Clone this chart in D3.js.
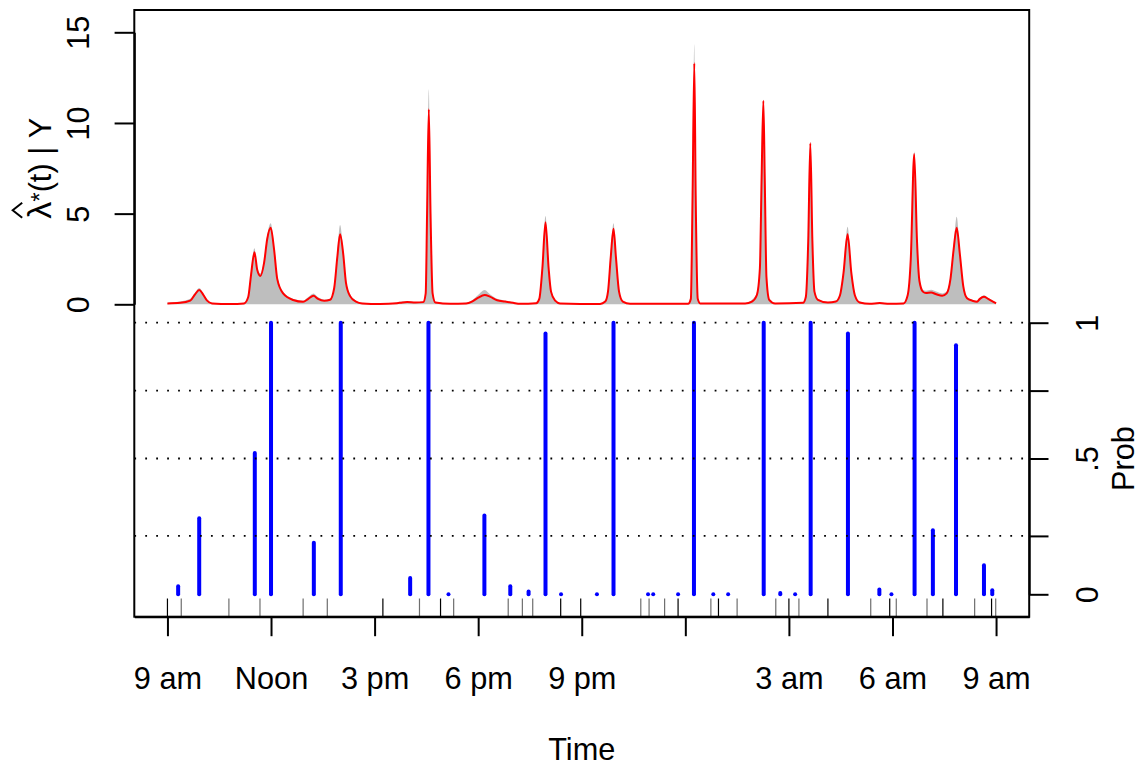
<!DOCTYPE html>
<html>
<head>
<meta charset="utf-8">
<style>
  body { margin: 0; background: #fff; }
  svg { display: block; font-family: "Liberation Sans", Arial, sans-serif; }
</style>
</head>
<body>
<svg></svg>
<script src="https://cdn.jsdelivr.net/npm/d3@7"></script>
<script>
let width = 1143, height = 767;

// fitted intensity (red) and binned counts (grey), time in hours from midnight of day 1
let fitTime = [9.00, 9.37, 9.66, 9.80, 9.92, 10.03, 10.15, 10.29, 10.82, 11.22, 11.34, 11.42, 11.52, 11.60, 11.69, 11.80, 11.89, 11.99, 12.09, 12.18,
    12.35, 12.64, 12.93, 13.08, 13.23, 13.36, 13.54, 13.71, 13.83, 13.92, 14.00, 14.09, 14.17, 14.29, 14.46, 14.64, 15.16, 15.65, 15.80, 15.94,
    16.18, 16.41, 16.48, 16.52, 16.57, 16.62, 16.68, 16.76, 17.19, 17.65, 17.82, 17.99, 18.19, 18.34, 18.55, 18.78, 19.01, 19.22, 19.68, 19.77,
    19.86, 19.95, 20.04, 20.11, 20.23, 20.37, 21.53, 21.68, 21.76, 21.84, 21.92, 21.99, 22.08, 22.19, 22.40, 24.08, 24.16, 24.21, 24.26, 24.30,
    24.36, 24.43, 25.73, 25.93, 26.07, 26.16, 26.21, 26.26, 26.30, 26.35, 26.43, 26.60, 27.41, 27.49, 27.56, 27.62, 27.68, 27.74, 27.84, 28.13,
    28.36, 28.48, 28.58, 28.70, 28.81, 28.91, 29.05, 29.34, 29.63, 29.91, 30.32, 30.44, 30.53, 30.63, 30.71, 30.78, 30.88, 30.97, 31.12, 31.27,
    31.44, 31.57, 31.68, 31.77, 31.86, 31.95, 32.05, 32.16, 32.31, 32.45, 32.53, 32.65, 32.77, 32.91, 33.00];
let fitRed = [0.05, 0.08, 0.20, 0.55, 0.79, 0.55, 0.20, 0.05, 0.02, 0.05, 0.40, 1.60, 2.87, 1.90, 1.56, 2.30, 3.60, 4.22, 3.00, 1.40,
    0.60, 0.24, 0.14, 0.30, 0.47, 0.30, 0.20, 0.25, 0.90, 2.60, 3.86, 2.80, 1.20, 0.45, 0.15, 0.05, 0.02, 0.06, 0.10, 0.12,
    0.10, 0.12, 0.60, 5.00, 10.76, 5.00, 0.60, 0.10, 0.03, 0.05, 0.15, 0.35, 0.51, 0.42, 0.22, 0.15, 0.08, 0.03, 0.06, 0.30,
    2.00, 4.52, 2.00, 0.70, 0.20, 0.05, 0.02, 0.15, 0.70, 2.60, 4.17, 2.60, 0.70, 0.15, 0.03, 0.03, 0.30, 6.00, 13.29, 6.00,
    0.30, 0.05, 0.05, 0.15, 0.50, 2.00, 7.00, 11.23, 7.00, 1.50, 0.25, 0.05, 0.08, 0.40, 3.50, 8.88, 3.50, 0.70, 0.25, 0.10,
    0.15, 0.50, 1.70, 3.86, 1.70, 0.50, 0.10, 0.03, 0.07, 0.03, 0.05, 0.50, 2.50, 8.29, 3.50, 1.30, 0.70, 0.62, 0.65, 0.55,
    0.47, 0.60, 1.40, 3.00, 4.22, 2.80, 1.00, 0.33, 0.20, 0.14, 0.30, 0.42, 0.30, 0.15, 0.05];
let fitGrey = [0.08, 0.15, 0.30, 0.65, 0.90, 0.62, 0.25, 0.08, 0.03, 0.08, 0.50, 1.80, 3.09, 2.00, 1.70, 2.45, 3.80, 4.47, 3.20, 1.55,
    0.70, 0.30, 0.20, 0.40, 0.60, 0.40, 0.25, 0.30, 1.00, 2.80, 4.37, 3.00, 1.35, 0.55, 0.20, 0.08, 0.03, 0.10, 0.15, 0.15,
    0.12, 0.15, 0.70, 5.40, 11.86, 5.40, 0.70, 0.12, 0.04, 0.08, 0.22, 0.50, 0.79, 0.55, 0.30, 0.20, 0.10, 0.05, 0.08, 0.40,
    2.20, 4.87, 2.20, 0.80, 0.25, 0.06, 0.03, 0.20, 0.80, 2.80, 4.47, 2.80, 0.80, 0.20, 0.04, 0.04, 0.35, 6.50, 14.34, 6.50,
    0.35, 0.06, 0.06, 0.25, 0.65, 2.20, 7.30, 11.30, 7.30, 1.60, 0.30, 0.06, 0.10, 0.50, 3.70, 8.97, 3.70, 0.80, 0.30, 0.12,
    0.20, 0.60, 1.90, 4.28, 1.90, 0.60, 0.15, 0.05, 0.10, 0.05, 0.08, 0.60, 2.70, 8.42, 3.70, 1.45, 0.80, 0.75, 0.80, 0.70,
    0.60, 0.70, 1.55, 3.20, 4.83, 3.00, 1.10, 0.40, 0.25, 0.20, 0.35, 0.50, 0.35, 0.20, 0.08];

// event probabilities
let eventTime = [9.31, 9.92, 11.53, 12.00, 13.24, 14.02, 16.03, 16.56, 17.14, 18.18, 18.93, 19.46, 19.95, 20.40, 21.44, 21.92, 22.92,
    23.07, 23.79, 24.25, 24.81, 25.24, 26.27, 26.75, 27.18, 27.63, 28.71, 29.62, 29.97, 30.64, 31.17, 31.84, 32.65, 32.89];
let eventProb = [0.03, 0.28, 0.52, 1.00, 0.19, 1.00, 0.06, 1.00, 0.00, 0.29, 0.03, 0.01, 0.96, 0.00, 0.00, 1.00, 0.00,
    0.00, 0.00, 1.00, 0.00, 0.00, 1.00, 0.005, 0.00, 1.00, 0.96, 0.018, 0.00, 1.00, 0.236, 0.917, 0.107, 0.015];

// rug marks
let rugBlack = [9.00, 15.24, 16.91, 20.39, 20.97, 23.79, 24.96, 27.00, 28.13, 29.92, 31.46, 32.87];
let rugGrey = [9.40, 10.78, 11.68, 12.93, 13.63, 16.30, 17.29, 18.87, 19.28, 19.58, 22.71, 22.95, 23.40, 24.74, 25.50, 26.62,
    27.29, 29.37, 30.11, 31.00, 32.38, 32.99];

let hourTicks = [9, 12, 15, 18, 21, 24, 27, 30, 33];
let hourLabels = ["9 am", "Noon", "3 pm", "6 pm", "9 pm", "", "3 am", "6 am", "9 am"];
let rateTicks = [0, 5, 10, 15];
let probTicks = [0, 0.215, 0.5, 0.75, 1];
let probLabels = ["0", "", ".5", "", "1"];
let probGrid = [0.215, 0.5, 0.75, 1];

let plotLeft = 134.3, plotRight = 1029.2, plotTop = 10, plotBottom = 616.7;
let fontSize = 30.7;

let svg = d3.select("svg").attr("width", width).attr("height", height);

let x = d3.scaleLinear().domain([8.04, 33.96]).range([plotLeft, plotRight]);
let yRate = d3.scaleLinear().domain([0, 15]).range([304.3, 32.3]);
let yProb = d3.scaleLinear().domain([0, 1]).range([594.3, 322.7]);

let fit = d3.zip(fitTime, fitRed, fitGrey);

// grey counts
svg.append("path")
    .datum(fit)
    .attr("fill", "#bebebe")
    .attr("d", d3.area().curve(d3.curveMonotoneX)
        .x(d => x(d[0])).y0(yRate(0)).y1(d => yRate(d[2])));

// red fitted intensity
svg.append("path")
    .datum(fit)
    .attr("fill", "none")
    .attr("stroke", "#ff0000")
    .attr("stroke-width", 2)
    .attr("d", d3.line().curve(d3.curveMonotoneX)
        .x(d => x(d[0])).y(d => yRate(d[1])));

// probability bars
svg.append("g")
    .selectAll("line")
    .data(d3.zip(eventTime, eventProb))
    .enter()
    .append("line")
    .attr("x1", d => x(d[0])).attr("x2", d => x(d[0]))
    .attr("y1", yProb(0)).attr("y2", d => yProb(d[1]))
    .attr("stroke", "#0000ff")
    .attr("stroke-width", 4)
    .attr("stroke-linecap", "round");

// dotted reference lines
svg.append("g")
    .selectAll("line")
    .data(probGrid)
    .enter()
    .append("line")
    .attr("x1", plotLeft).attr("x2", plotRight)
    .attr("y1", d => yProb(d)).attr("y2", d => yProb(d))
    .attr("stroke", "#000")
    .attr("stroke-width", 1.8)
    .attr("stroke-dasharray", "1.8 9.15");

// rugs
function rug(times, colour) {
    svg.append("g")
        .selectAll("line")
        .data(times)
        .enter()
        .append("line")
        .attr("x1", d => x(d)).attr("x2", d => x(d))
        .attr("y1", plotBottom).attr("y2", plotBottom - 18.2)
        .attr("stroke", colour)
        .attr("stroke-width", 1.2);
}
rug(rugGrey, "#6e6e6e");
rug(rugBlack, "#000");

// box
svg.append("rect")
    .attr("x", plotLeft).attr("y", plotTop)
    .attr("width", plotRight - plotLeft).attr("height", plotBottom - plotTop)
    .attr("fill", "none")
    .attr("stroke", "#000")
    .attr("stroke-width", 2);

// axes
let xAxis = svg.append("g")
    .attr("transform", "translate(0," + plotBottom + ")")
    .call(d3.axisBottom(x).tickValues(hourTicks).tickFormat((d, i) => hourLabels[i])
        .tickSize(19.5).tickSizeOuter(0));
xAxis.selectAll("text").attr("y", 72.8).attr("dy", null);

let yAxis = svg.append("g")
    .attr("transform", "translate(" + plotLeft + ",0)")
    .call(d3.axisLeft(yRate).tickValues(rateTicks).tickFormat(d3.format("d"))
        .tickSize(19.7).tickSizeOuter(0));
yAxis.selectAll("text")
    .attr("transform", "rotate(-90)")
    .attr("x", 0).attr("y", -45.3).attr("dy", null)
    .attr("text-anchor", "middle");

let pAxis = svg.append("g")
    .attr("transform", "translate(" + plotRight + ",0)")
    .call(d3.axisRight(yProb).tickValues(probTicks).tickFormat((d, i) => probLabels[i])
        .tickSize(19.3).tickSizeOuter(0));
pAxis.selectAll("text")
    .attr("transform", "rotate(-90)")
    .attr("x", 0).attr("y", 68.8).attr("dy", null)
    .attr("text-anchor", "middle");

svg.selectAll(".domain, .tick line").attr("stroke", "#000").attr("stroke-width", 2);
svg.selectAll(".tick text")
    .attr("fill", "#000")
    .style("font-size", fontSize + "px")
    .style("font-family", "'Liberation Sans', Arial, sans-serif");

// titles
svg.append("text")
    .attr("x", (plotLeft + plotRight) / 2).attr("y", 760)
    .attr("text-anchor", "middle")
    .style("font-size", fontSize + "px")
    .text("Time");

svg.append("text")
    .attr("transform", "translate(1134," + yProb(0.5) + ") rotate(-90)")
    .attr("text-anchor", "middle")
    .style("font-size", fontSize + "px")
    .text("Prob");

let yTitle = svg.append("g")
    .attr("transform", "translate(50.7," + yRate(7.5) + ") rotate(-90)");
let yText = yTitle.append("text")
    .attr("text-anchor", "middle")
    .style("font-size", fontSize + "px");
yText.append("tspan").style("font-size", "34px").text("λ");
yText.append("tspan").attr("dy", -3).style("font-size", "24px").text("*");
yText.append("tspan").attr("dy", 3).text("(t) | Y");

let lam = yText.node().getExtentOfChar(0);
yTitle.append("path")
    .attr("d", "M" + (lam.x + 1) + ",-28.5 L" + (lam.x + lam.width / 2) + ",-38 L" + (lam.x + lam.width - 1) + ",-28.5")
    .attr("fill", "none")
    .attr("stroke", "#000")
    .attr("stroke-width", 2);
</script>
</body>
</html>
